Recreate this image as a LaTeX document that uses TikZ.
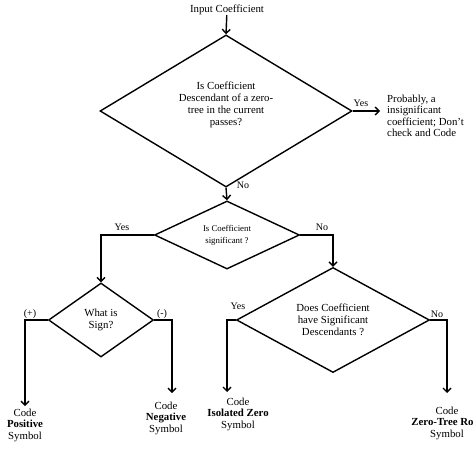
\documentclass[tikz,border=0pt]{standalone}
\usepackage{fontspec}
\setmainfont{Liberation Serif}
\usetikzlibrary{shapes.geometric,arrows.meta}
\begin{document}
\begin{tikzpicture}
[x=1pt,y=-1pt,
  decisiondecorate/.style={shape=diamond,draw,line width=1.4pt,inner sep=0pt,
    align=center,font=\fontsize{10.8}{12}\selectfont},%
  textdecorate/.style={align=center,inner sep=0pt,font=\fontsize{10.8}{11.5}\selectfont},%
  labeldecorate/.style={inner sep=0pt,font=\fontsize{10}{10}\selectfont},%
  linedecorate/.style={-{Straight Barb[length=4pt,width=8pt]},line width=1.4pt}]
\useasboundingbox (0,0) rectangle (473,462);
%% decisions
\node (desc) at (226,111) [decisiondecorate,minimum width=252pt,minimum height=124pt]
  {Is Coefficient\\Descendant of a zero-\\tree in the current\\passes?\\[2pt]};
\node (sig) at (227,235) [decisiondecorate,minimum width=145pt,minimum height=65pt,
  font=\fontsize{8.8}{12}\selectfont] {Is Coefficient\\significant ?};
\node (sign) at (101,320) [decisiondecorate,minimum width=105pt,minimum height=74pt]
  {What is\\Sign?};
\node (does) at (333,320) [decisiondecorate,minimum width=193pt,minimum height=99pt]
  {Does Coefficient\\have Significant\\Descendants ?};
%% texts
\node (input) at (227,10) [textdecorate] {Input Coefficient};
\node (prob) at (387,116) [textdecorate,anchor=west,align=left]
  {Probably, a\\insignificant\\coefficient; Don't\\check and Code};
\node (pos) at (25,425) [textdecorate] {Code\\\textbf{Positive}\\Symbol};
\node (neg) at (166,418) [textdecorate] {Code\\\textbf{Negative}\\Symbol};
\node (iso) at (238,414) [textdecorate] {Code\\\textbf{Isolated Zero}\\Symbol};
\node (root) at (447,423) [textdecorate] {Code\\\textbf{Zero-Tree Root}\\Symbol};
%% free ends
\foreach \endname/\x/\y in {probend/380/111, posend/25/406, negend/172/393,
  isoend/227/392, rootend/447/393} {
  \coordinate (\endname) at (\x,\y);
}
%% branch labels
\foreach \labelname/\x/\y/\labeltext in {descyes/361/103/Yes, descno/243/185/No,
  sigyes/122/227/Yes, signo/322/227/No, signplus/30/314/(+), signminus/162/314/(-),
  doesyes/238/306/Yes, doesno/437/314/No} {
  \node (\labelname) at (\x,\y) [labeldecorate] {\labeltext};
}
%% connectors
\draw[linedecorate] (input) -- (desc.north);
\draw[linedecorate] (desc.east) -- (probend);
\draw[linedecorate] (desc.south) -- (sig.north);
\draw[linedecorate] (sig.west) -| (sign.north);
\draw[linedecorate] (sig.east) -| (does.north);
\draw[linedecorate] (sign.west) -| (posend);
\draw[linedecorate] (sign.east) -| (negend);
\draw[linedecorate] (does.west) -| (isoend);
\draw[linedecorate] (does.east) -| (rootend);
\end{tikzpicture}
\end{document}
